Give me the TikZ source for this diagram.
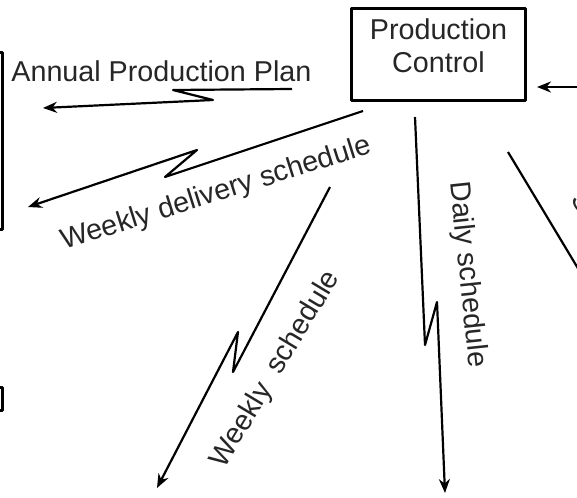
\documentclass[tikz,border=0pt]{standalone}
\usepackage{fontspec}
\setmainfont{Liberation Sans}
\usetikzlibrary{arrows.meta}
\tikzset{
	flow/.style={line width=1.1pt,->},
	lbl/.style={text=black!85,inner sep=0pt,anchor=base west},
	unit/.style={draw,line width=1.5pt,inner sep=0pt},
}
\begin{document}
\begin{tikzpicture}[x=0.5pt,y=-0.5pt,font=\fontsize{14.35}{16.5}\selectfont,line join=round,>={Stealth[length=7pt,width=5.5pt]}]
	% units are pixels, y runs downwards
	\useasboundingbox (0,0) rectangle (577,497);
	\clip (0,0) rectangle (577,497);
	\node[unit,minimum width=87pt,minimum height=46pt] (pc) at (438.5,54.5) {};
	\node[align=center,text=black!85,inner sep=0pt] (pctext) at (438.5,46) {Production\\Control};
	\node[unit,minimum width=31pt,minimum height=88pt] (plant) at (-29,141) {};
	\node[unit,minimum width=31pt,minimum height=11.5pt] (store) at (-29,398.5) {};
	% free ends of the bolts
	\coordinate (annS) at (292,89);  \coordinate (annE) at (43,108);
	\coordinate (wdS) at (363,111);  \coordinate (wdE) at (28,207);
	\coordinate (wsS) at (330,187);  \coordinate (wsE) at (157,488);
	\coordinate (dS) at (415,117);   \coordinate (dE) at (445,493);
	\coordinate (inS) at (600,87);   \coordinate (inE) at (537,87);
	\coordinate (outS) at (508,152); \coordinate (outE) at (600,305);
	\draw[flow] (annS)--(173,90)--(213,100)--(annE);
	\draw[flow] (wdS)--(165,177)--(197,150)--(wdE);
	\draw[flow] (wsS)--(233,372)--(238,332)--(wsE);
	\draw[flow] (dS)--(425,345)--(437,302)--(dE);
	\draw[flow] (inS)--(inE);
	\draw[line width=1.1pt] (outS)--(outE);
	\node[lbl] (annual) at (11,82) {Annual Production Plan};
	\node[lbl,rotate=17.5] (wdel) at (64,250) {Weekly delivery schedule};
	\node[lbl,rotate=59] (wsch) at (224,470) {Weekly\ \ schedule};
	\node[lbl,rotate=-84] (daily) at (450,182) {Daily schedule};
	\node[lbl,rotate=-58] (frag) at (570,199) {S};
\end{tikzpicture}
\end{document}
